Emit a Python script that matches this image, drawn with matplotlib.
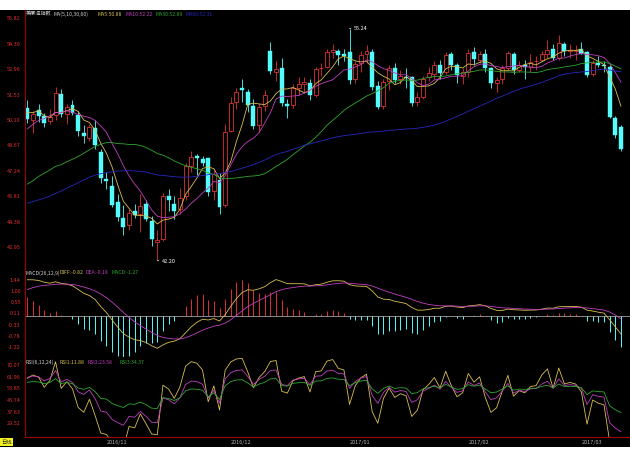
import numpy as np
import pandas as pd
import matplotlib
matplotlib.use("Agg")
import matplotlib.pyplot as plt
from matplotlib.patches import Rectangle

plt.rcParams['font.family'] = ['Noto Sans CJK SC', 'DejaVu Sans']

# closes before the first visible bar, only used to warm up MA / MACD / RSI
warmup_close = [48.99, 46.60, 47.43, 45.14, 45.41, 44.76, 46.80, 44.75, 45.68, 45.95,
                45.24, 44.65, 44.94, 44.75, 44.19, 43.13, 42.92, 41.92, 41.14, 41.60,
                40.06, 39.51, 40.83, 41.93, 41.80, 43.02, 42.77, 41.71, 43.49, 44.49,
                45.74, 46.58, 46.79, 48.22, 48.52, 47.05, 48.10, 46.77, 47.33, 47.64,
                46.98, 46.35, 44.70, 43.16, 44.44, 44.83, 45.50, 47.62, 45.88, 46.29,
                44.90, 43.58, 43.91, 43.03, 43.30, 43.85, 45.34, 46.32, 44.48, 45.93,
                44.67, 47.05, 47.83, 48.24, 48.81, 48.69, 49.83, 50.44, 49.81, 51.35,
                50.79]

# visible daily bars
open_ = [50.80, 50.10, 50.65, 50.30, 50.05, 50.40, 51.55, 50.45, 50.95, 50.40,
         49.35, 49.10, 49.65, 48.30, 46.80, 46.40, 45.50, 44.60, 44.20, 44.95,
         44.80, 45.40, 44.40, 43.25, 43.40, 45.80, 45.40, 45.10, 45.80, 47.50,
         48.10, 47.90, 47.95, 46.10, 46.70, 45.30, 49.50, 51.10, 51.90, 51.70,
         50.90, 49.80, 50.90, 54.00, 52.80, 53.00, 51.00, 50.95, 51.90, 52.10,
         52.20, 51.50, 53.00, 53.10, 53.90, 54.00, 53.80, 53.90, 52.40, 53.30,
         53.80, 53.90, 52.00, 50.90, 52.30, 53.00, 52.40, 52.50, 52.50, 51.10,
         51.40, 52.50, 52.70, 53.20, 52.80, 53.80, 53.20, 52.60, 52.80, 53.90,
         53.50, 53.80, 53.00, 52.20, 52.40, 53.00, 53.80, 52.90, 53.20, 53.10,
         53.40, 53.50, 53.80, 54.10, 53.60, 54.40, 54.00, 54.00, 54.10, 53.90,
         52.70, 53.30, 53.20, 53.10, 50.20, 49.70]
high = [51.20, 50.60, 51.00, 50.50, 50.70, 51.93, 51.85, 51.00, 51.20, 50.60,
        49.80, 49.85, 50.10, 48.45, 47.20, 46.95, 45.95, 45.30, 45.10, 45.40,
        45.95, 45.60, 44.70, 43.90, 46.00, 46.20, 45.85, 46.30, 47.70, 48.35,
        48.20, 48.10, 47.95, 47.30, 47.10, 49.90, 51.40, 51.90, 52.40, 51.85,
        51.30, 51.00, 51.80, 54.51, 53.40, 53.60, 51.30, 52.10, 52.50, 52.50,
        52.40, 53.10, 53.30, 54.10, 54.40, 54.10, 54.10, 55.24, 53.40, 54.00,
        54.30, 54.10, 52.30, 52.40, 53.20, 53.30, 52.90, 53.00, 52.60, 51.70,
        52.60, 53.10, 53.40, 53.50, 53.90, 53.90, 53.30, 53.00, 54.10, 54.20,
        54.00, 54.10, 53.10, 52.50, 53.20, 54.00, 53.90, 53.40, 53.50, 53.80,
        53.70, 54.00, 54.60, 54.40, 54.90, 54.50, 54.40, 54.30, 54.50, 54.00,
        53.50, 53.70, 53.40, 53.20, 50.30, 49.80]
low = [49.95, 49.35, 50.00, 49.70, 49.90, 50.10, 50.25, 49.90, 50.40, 49.20,
       48.80, 48.90, 48.45, 46.55, 46.20, 45.20, 44.40, 43.60, 43.90, 44.60,
       43.80, 44.40, 43.03, 42.20, 43.30, 45.00, 44.55, 44.80, 45.60, 47.20,
       47.00, 47.50, 45.80, 45.60, 44.82, 45.20, 49.40, 50.70, 51.10, 50.55,
       49.60, 49.40, 50.60, 52.70, 52.30, 50.90, 50.20, 50.80, 51.50, 51.60,
       51.20, 51.40, 52.60, 53.00, 53.60, 53.20, 53.40, 52.11, 52.20, 52.80,
       53.30, 51.80, 50.70, 50.70, 51.80, 52.20, 52.10, 51.90, 50.90, 50.90,
       51.30, 52.30, 52.40, 52.40, 52.70, 52.90, 52.20, 52.10, 52.50, 53.20,
       53.30, 52.80, 51.90, 51.70, 52.10, 52.90, 52.70, 52.80, 52.40, 52.80,
       52.90, 53.40, 53.60, 53.50, 53.50, 53.70, 53.60, 53.50, 53.80, 52.50,
       52.60, 53.10, 52.80, 50.20, 49.10, 48.35]
close = [50.18, 50.44, 50.35, 49.94, 50.29, 51.60, 50.43, 50.85, 50.52, 49.50,
         49.18, 49.72, 48.70, 46.86, 46.67, 45.34, 44.66, 44.07, 44.89, 44.75,
         45.27, 44.50, 43.41, 43.32, 45.81, 45.57, 45.00, 45.69, 47.49, 48.03,
         47.96, 47.70, 46.06, 47.08, 45.23, 49.44, 51.06, 51.68, 51.79, 50.93,
         49.77, 50.84, 51.50, 52.83, 52.98, 51.04, 50.90, 51.90, 52.12, 52.23,
         51.49, 52.95, 53.02, 53.90, 54.06, 53.77, 53.72, 52.33, 53.26, 53.76,
         53.99, 51.96, 50.82, 52.25, 53.01, 52.37, 52.60, 52.48, 51.08, 51.37,
         52.42, 52.75, 53.18, 52.75, 53.78, 53.17, 52.63, 52.81, 53.88, 53.54,
         53.83, 53.01, 52.17, 52.34, 53.00, 53.86, 52.93, 53.20, 53.11, 53.36,
         53.40, 53.80, 54.06, 53.59, 54.45, 53.99, 54.05, 54.01, 53.83, 52.61,
         53.33, 53.20, 53.14, 50.28, 49.28, 48.49]

month_pos = [14, 36, 57, 78, 98]
month_labels = ['2016/11', '2016/12', '2017/01', '2017/02', '2017/03']

price_ticks = [42.95, 44.38, 45.81, 47.24, 48.67, 50.10, 51.53, 52.96, 54.39, 55.82]
macd_ticks = [1.44, 1.00, 0.55, 0.11, -0.33, -0.78, -1.22]
rsi_ticks = [70.07, 61.96, 53.85, 45.74, 37.63, 29.52]

RED = '#e03030'
CYAN = '#54fcfc'
YEL = '#d8c050'
MAG = '#c040c0'
GRN = '#30a830'
BLU = '#2828c0'
AXRED = '#a00000'

# indicators
allc = pd.Series(warmup_close + close)
n0 = len(warmup_close)
ma = {k: allc.rolling(k).mean().values[n0:] for k in (5, 10, 30, 60)}
diff = allc.ewm(span=12, adjust=False).mean() - allc.ewm(span=26, adjust=False).mean()
dea = diff.ewm(span=9, adjust=False).mean()
hist = 2 * (diff - dea)
diff, dea, hist = diff.values[n0:], dea.values[n0:], hist.values[n0:]
delta = allc.diff().fillna(0)
rsi = {}
for k in (6, 12, 24):
    up = delta.clip(lower=0).ewm(alpha=1 / k, adjust=False).mean()
    tot = delta.abs().ewm(alpha=1 / k, adjust=False).mean()
    rsi[k] = (up / tot.replace(0, np.nan) * 100).values[n0:]

n = len(close)
x = np.arange(n)

fig = plt.figure(figsize=(6.3, 4.59), dpi=100)
fig.patch.set_facecolor('white')
fig.patches.append(Rectangle((0, 12 / 459), 1, 437 / 459, transform=fig.transFigure,
                             facecolor='black', edgecolor='none', zorder=-10))

W, H = 630, 459
def box(top, bottom):
    return [25 / W, (H - bottom) / H, 605 / W, (bottom - top) / H]

ax1 = fig.add_axes(box(10, 268))
ax2 = fig.add_axes(box(268, 357), sharex=ax1)
ax3 = fig.add_axes(box(357, 437), sharex=ax1)

for ax in (ax1, ax2, ax3):
    ax.set_facecolor('black')
    for s in ('top', 'right'):
        ax.spines[s].set_visible(False)
    ax.spines['left'].set_color(AXRED)
    ax.spines['bottom'].set_color(AXRED)
    ax.spines['left'].set_linewidth(0.8)
    ax.spines['bottom'].set_linewidth(0.8)
    ax.tick_params(axis='y', colors=RED, labelsize=4, length=0, pad=3)
    ax.tick_params(axis='x', length=0)

# candles
w = 0.7
for i in range(n):
    o, h, l, c = open_[i], high[i], low[i], close[i]
    if c >= o:
        ax1.vlines(i, c, h, color=RED, lw=0.6)
        ax1.vlines(i, l, o, color=RED, lw=0.6)
        ax1.add_patch(Rectangle((i - w / 2, o), w, max(c - o, 0.02), fill=False,
                                edgecolor=RED, lw=0.6))
    else:
        ax1.vlines(i, l, h, color=CYAN, lw=0.6)
        ax1.add_patch(Rectangle((i - w / 2, c), w, o - c, facecolor=CYAN,
                                edgecolor=CYAN, lw=0.3))

ax1.plot(x, ma[5], color=YEL, lw=0.6)
ax1.plot(x, ma[10], color=MAG, lw=0.6)
ax1.plot(x, ma[30], color=GRN, lw=0.6)
ax1.plot(x, ma[60], color=BLU, lw=0.6)

# highest / lowest markers
ih = int(np.argmax(high))
il = int(np.argmin(low))
ax1.annotate(f'{high[ih]:.2f}', (ih, high[ih]), xytext=(3, 0), textcoords='offset points',
             color='white', fontsize=4, va='center',
             arrowprops=dict(arrowstyle='-', color='white', lw=0.5))
ax1.annotate(f'{low[il]:.2f}', (il, low[il]), xytext=(3, -1), textcoords='offset points',
             color='white', fontsize=4, va='center',
             arrowprops=dict(arrowstyle='-', color='white', lw=0.5))

ax1.set_ylim(41.77, 56.29)
ax1.set_yticks(price_ticks)
ax1.set_yticklabels([f'{v:.2f}' for v in price_ticks])
ax1.set_xlim(-0.4, n + 0.6)
plt.setp(ax1.get_xticklabels(), visible=False)

# MACD
ax2.vlines(x, 0, hist, colors=[RED if v >= 0 else CYAN for v in hist], lw=0.7)
ax2.axhline(0, color='#c0c0c0', lw=0.5)
ax2.plot(x, diff, color=YEL, lw=0.6)
ax2.plot(x, dea, color=MAG, lw=0.6)
ax2.set_ylim(-1.617, 1.916)
ax2.set_yticks(macd_ticks)
ax2.set_yticklabels([f'{v:.2f}' for v in macd_ticks])
plt.setp(ax2.get_xticklabels(), visible=False)

# RSI
ax3.plot(x, rsi[6], color=YEL, lw=0.6)
ax3.plot(x, rsi[12], color=MAG, lw=0.6)
ax3.plot(x, rsi[24], color=GRN, lw=0.6)
ax3.set_ylim(20.0, 75.6)
ax3.set_yticks(rsi_ticks)
ax3.set_yticklabels([f'{v:.2f}' for v in rsi_ticks])
ax3.set_xticks(month_pos)
ax3.set_xticklabels(month_labels, color='#b0b0b0', fontsize=4, ha='left')
ax3.tick_params(axis='x', pad=2)

# header lines
def header(y, parts):
    for xp, txt, col in parts:
        fig.text(xp / W, 1 - y / H, txt, color=col, fontsize=3.7, va='center', ha='left')

header(14, [(26, '美原油指数', '#d0d0d0'), (53, 'MA(5,10,30,60)', '#d0d0d0'),
            (98, 'MA5:50.88', YEL), (126, 'MA10:52.22', MAG),
            (155, 'MA30:52.89', GRN), (185, 'MA60:52.31', BLU)])
header(273, [(26, 'MACD(26,12,9)', '#d0d0d0'), (60, 'DIFF:-0.82', YEL),
             (86, 'DEA:-0.18', MAG), (112, 'MACD:-1.27', GRN)])
header(362, [(26, 'RSI(6,12,24)', '#d0d0d0'), (60, 'RSI1:11.88', YEL),
             (88, 'RSI2:23.58', MAG), (119, 'RSI3:34.37', GRN)])

fig.text(1 / W, 1 - 442 / H, '日线', color='#202020', fontsize=3.8, va='center', ha='left',
         bbox=dict(boxstyle='square,pad=0.25', facecolor='#f0f020', edgecolor='none'))

fig.savefig('out.png', dpi=100)
